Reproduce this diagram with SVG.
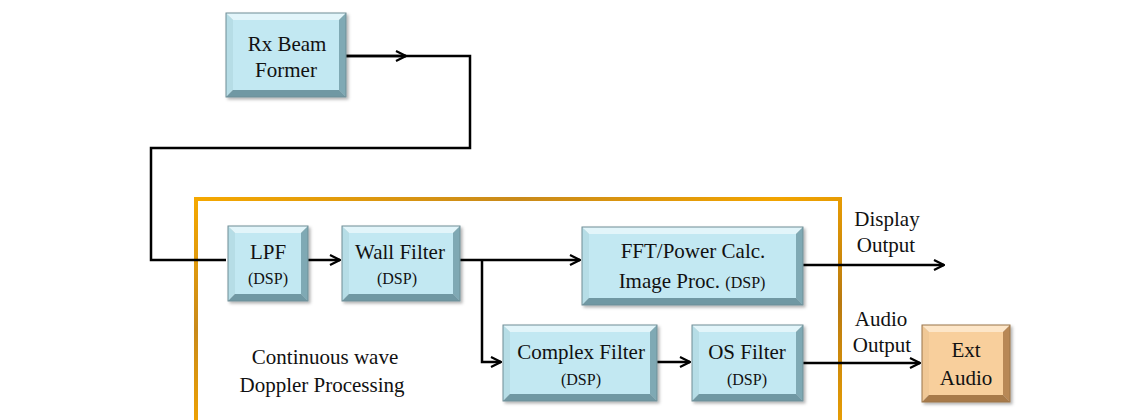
<svg xmlns="http://www.w3.org/2000/svg" width="1143" height="420" viewBox="0 0 1143 420">
<style>
  .lbl{font-family:"Liberation Serif","Times New Roman",serif;font-size:21px;fill:#111;text-anchor:middle}
  .sm{font-size:16px}
  .wire{fill:none;stroke:#000;stroke-width:2.5}
  .bt{fill:#e2f5fa}.bl{fill:#b6dde6}.br{fill:#7fa9b4}.bb{fill:#6f98a3}.bi{fill:#c2e8f2}
  .ot{fill:#fde6c8}.ol{fill:#f0c896}.or{fill:#b88856}.ob{fill:#a87a4a}.oi{fill:#f8cf9c}
  .edge{fill:none;stroke:#6f8e96;stroke-width:1}
  .edgeo{fill:none;stroke:#9a7448;stroke-width:1}
</style>
<defs>
  <marker id="arr" viewBox="0 0 12 12" refX="11" refY="6" markerWidth="12" markerHeight="12" markerUnits="userSpaceOnUse" orient="auto">
    <path d="M1,1 L11,6 L1,11" fill="none" stroke="#000" stroke-width="2.2"/>
  </marker>
  <linearGradient id="frameg" x1="0" y1="0" x2="1" y2="1">
    <stop offset="0" stop-color="#f5a800"/>
    <stop offset="0.25" stop-color="#c98a1a"/>
    <stop offset="0.45" stop-color="#f2a400"/>
    <stop offset="0.7" stop-color="#b97a10"/>
    <stop offset="1" stop-color="#f5a800"/>
  </linearGradient>
  <filter id="sh" x="-10%" y="-10%" width="130%" height="130%">
    <feDropShadow dx="2" dy="2" stdDeviation="1.5" flood-color="#000" flood-opacity="0.3"/>
  </filter>
</defs>

<g id="frame">
  <rect x="196" y="199" width="644" height="260" fill="none" stroke="url(#frameg)" stroke-width="4"/>
</g>

<g id="connectors">
  <polyline class="wire" points="346,56 470,56 470,148 151,148 151,260 226,260"/>
  <line class="wire" x1="346" y1="56" x2="406" y2="56" marker-end="url(#arr)"/>
  <line class="wire" x1="308" y1="260" x2="340" y2="260" marker-end="url(#arr)"/>
  <line class="wire" x1="460" y1="260" x2="580" y2="260" marker-end="url(#arr)"/>
  <polyline class="wire" points="482,260 482,362 501,362" marker-end="url(#arr)"/>
  <line class="wire" x1="657" y1="362" x2="690" y2="362" marker-end="url(#arr)"/>
  <line class="wire" x1="803" y1="265" x2="944" y2="265" marker-end="url(#arr)"/>
  <line class="wire" x1="803" y1="363" x2="920" y2="363" marker-end="url(#arr)"/>
</g>

<g id="rx">
  <g filter="url(#sh)">
    <polygon class="bt" points="226,13 346,13 339,20 233,20"/>
    <polygon class="bl" points="226,13 233,20 233,90 226,97"/>
    <polygon class="br" points="346,13 346,97 339,90 339,20"/>
    <polygon class="bb" points="226,97 346,97 339,90 233,90"/>
    <rect class="bi" x="233" y="20" width="106" height="70"/>
    <rect class="edge" x="226" y="13" width="120" height="84"/>
  </g>
  <text class="lbl" x="287" y="51">Rx Beam</text>
  <text class="lbl" x="286" y="77">Former</text>
</g>

<g id="lpf">
  <g filter="url(#sh)">
    <polygon class="bt" points="228,226 308,226 301,233 235,233"/>
    <polygon class="bl" points="228,226 235,233 235,294 228,301"/>
    <polygon class="br" points="308,226 308,301 301,294 301,233"/>
    <polygon class="bb" points="228,301 308,301 301,294 235,294"/>
    <rect class="bi" x="235" y="233" width="66" height="61"/>
    <rect class="edge" x="228" y="226" width="80" height="75"/>
  </g>
  <text class="lbl" x="268" y="259">LPF</text>
  <text class="lbl sm" x="268" y="284">(DSP)</text>
</g>

<g id="wall">
  <g filter="url(#sh)">
    <polygon class="bt" points="342,226 460,226 453,233 349,233"/>
    <polygon class="bl" points="342,226 349,233 349,294 342,301"/>
    <polygon class="br" points="460,226 460,301 453,294 453,233"/>
    <polygon class="bb" points="342,301 460,301 453,294 349,294"/>
    <rect class="bi" x="349" y="233" width="104" height="61"/>
    <rect class="edge" x="342" y="226" width="118" height="75"/>
  </g>
  <text class="lbl" x="400" y="259">Wall Filter</text>
  <text class="lbl sm" x="397" y="284">(DSP)</text>
</g>

<g id="fft">
  <g filter="url(#sh)">
    <polygon class="bt" points="582,227 803,227 796,234 589,234"/>
    <polygon class="bl" points="582,227 589,234 589,298 582,305"/>
    <polygon class="br" points="803,227 803,305 796,298 796,234"/>
    <polygon class="bb" points="582,305 803,305 796,298 589,298"/>
    <rect class="bi" x="589" y="234" width="207" height="64"/>
    <rect class="edge" x="582" y="227" width="221" height="78"/>
  </g>
  <text class="lbl" x="693" y="258">FFT/Power Calc.</text>
  <text class="lbl" x="692" y="288">Image Proc.  <tspan class="sm">(DSP)</tspan></text>
</g>

<g id="complex">
  <g filter="url(#sh)">
    <polygon class="bt" points="503,325 657,325 650,332 510,332"/>
    <polygon class="bl" points="503,325 510,332 510,394 503,401"/>
    <polygon class="br" points="657,325 657,401 650,394 650,332"/>
    <polygon class="bb" points="503,401 657,401 650,394 510,394"/>
    <rect class="bi" x="510" y="332" width="140" height="62"/>
    <rect class="edge" x="503" y="325" width="154" height="76"/>
  </g>
  <text class="lbl" x="581" y="359">Complex Filter</text>
  <text class="lbl sm" x="581" y="385">(DSP)</text>
</g>

<g id="os">
  <g filter="url(#sh)">
    <polygon class="bt" points="692,325 803,325 796,332 699,332"/>
    <polygon class="bl" points="692,325 699,332 699,394 692,401"/>
    <polygon class="br" points="803,325 803,401 796,394 796,332"/>
    <polygon class="bb" points="692,401 803,401 796,394 699,394"/>
    <rect class="bi" x="699" y="332" width="97" height="62"/>
    <rect class="edge" x="692" y="325" width="111" height="76"/>
  </g>
  <text class="lbl" x="747" y="359">OS Filter</text>
  <text class="lbl sm" x="747" y="385">(DSP)</text>
</g>

<g id="ext">
  <g filter="url(#sh)">
    <polygon class="ot" points="922,325 1010,325 1003,332 929,332"/>
    <polygon class="ol" points="922,325 929,332 929,395 922,402"/>
    <polygon class="or" points="1010,325 1010,402 1003,395 1003,332"/>
    <polygon class="ob" points="922,402 1010,402 1003,395 929,395"/>
    <rect class="oi" x="929" y="332" width="74" height="63"/>
    <rect class="edgeo" x="922" y="325" width="88" height="77"/>
  </g>
  <text class="lbl" x="966" y="357">Ext</text>
  <text class="lbl" x="966" y="385">Audio</text>
</g>

<g id="labels">
  <text class="lbl" x="887" y="226">Display</text>
  <text class="lbl" x="886" y="252">Output</text>
  <text class="lbl" x="881" y="326">Audio</text>
  <text class="lbl" x="882" y="352">Output</text>
  <text class="lbl" x="325" y="364">Continuous wave</text>
  <text class="lbl" x="322" y="392">Doppler Processing</text>
</g>
</svg>
